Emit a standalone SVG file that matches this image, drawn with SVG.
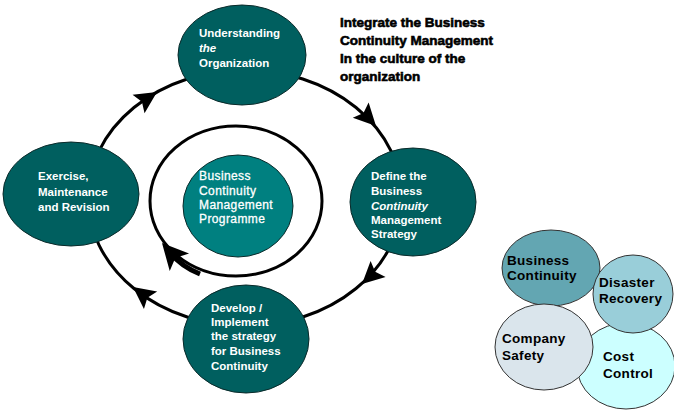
<svg xmlns="http://www.w3.org/2000/svg" xmlns:xlink="http://www.w3.org/1999/xlink" width="674" height="411" viewBox="0 0 674 411">
<defs>
<style>
.node{fill:#005F5F;stroke:#0a2a2a;stroke-width:1}
.inner{fill:#008080;stroke:#0a2a2a;stroke-width:1}
.nt{font-family:"Liberation Sans",Arial,sans-serif;font-size:11.5px;font-weight:bold;fill:#ffffff}
.it{font-family:"Liberation Sans",Arial,sans-serif;font-size:12px;fill:#ffffff;stroke:#ffffff;stroke-width:0.3;letter-spacing:0.4px}
.ring{fill:none;stroke:#000;stroke-width:3}
.title{font-family:"Liberation Sans",Arial,sans-serif;font-size:13.5px;font-weight:bold;fill:#000;stroke:#000;stroke-width:0.6}
.vt{font-family:"Liberation Sans",Arial,sans-serif;font-size:13.5px;font-weight:bold;fill:#000;letter-spacing:0.3px}
.venn{stroke:#333;stroke-width:1}
</style>
<path id="ah" d="M0,0 L-22,-11 L-18,0 L-22,11 Z" fill="#000"/>
<path id="ah2" d="M0,0 L-26,-13 L-20,0 L-26,13 Z" fill="#000"/>
</defs>
<rect width="674" height="411" fill="#fff"/>

<g id="connectors">
<ellipse class="ring" cx="245" cy="198" rx="157" ry="128"/>
<use xlink:href="#ah" transform="translate(157,92) rotate(-33)"/>
<use xlink:href="#ah" transform="translate(376,126) rotate(46)"/>
<use xlink:href="#ah" transform="translate(362,284) rotate(137)"/>
<use xlink:href="#ah" transform="translate(133,287) rotate(-143)"/>
<ellipse class="ring" cx="236" cy="201" rx="86" ry="75"/>
<path d="M200,274 Q180,266 168,250" fill="none" stroke="#000" stroke-width="5"/>
<use xlink:href="#ah2" transform="translate(162,243) rotate(-132)"/>
</g>

<g id="node-understanding">
<ellipse class="node" cx="242" cy="55" rx="64" ry="50"/>
<text class="nt" x="199" y="37">Understanding</text>
<text class="nt" x="199" y="52" font-style="italic">the</text>
<text class="nt" x="199" y="67">Organization</text>
</g>

<g id="node-define">
<ellipse class="node" cx="413" cy="202" rx="63" ry="54"/>
<text class="nt" x="371" y="180">Define the</text>
<text class="nt" x="371" y="195">Business</text>
<text class="nt" x="371" y="210" font-style="italic">Continuity</text>
<text class="nt" x="371" y="224">Management</text>
<text class="nt" x="371" y="238">Strategy</text>
</g>

<g id="node-develop">
<ellipse class="node" cx="246" cy="339" rx="63" ry="54"/>
<text class="nt" x="211" y="312">Develop /</text>
<text class="nt" x="211" y="326">Implement</text>
<text class="nt" x="211" y="340">the strategy</text>
<text class="nt" x="211" y="355">for Business</text>
<text class="nt" x="211" y="370">Continuity</text>
</g>

<g id="node-exercise">
<ellipse class="node" cx="71" cy="194" rx="68" ry="52"/>
<text class="nt" x="38" y="180">Exercise,</text>
<text class="nt" x="38" y="196">Maintenance</text>
<text class="nt" x="38" y="211">and Revision</text>
</g>

<g id="node-programme">
<ellipse class="inner" cx="238" cy="206" rx="55" ry="51"/>
<text class="it" x="199" y="180">Business</text>
<text class="it" x="199" y="195">Continuity</text>
<text class="it" x="199" y="209">Management</text>
<text class="it" x="199" y="223">Programme</text>
</g>

<g id="title">
<text class="title" x="340" y="27">Integrate the Business</text>
<text class="title" x="340" y="45">Continuity Management</text>
<text class="title" x="340" y="63">In the culture of the</text>
<text class="title" x="340" y="81">organization</text>
</g>

<g id="venn-cost-control">
<ellipse class="venn" cx="626" cy="366" rx="49" ry="43" fill="#CCFFFF"/>
<text class="vt" x="603" y="361">Cost</text>
<text class="vt" x="603" y="378">Control</text>
</g>
<g id="venn-business-continuity">
<ellipse class="venn" cx="551" cy="268" rx="49" ry="38" fill="#63A6B2"/>
<text class="vt" x="507" y="265">Business</text>
<text class="vt" x="507" y="280">Continuity</text>
</g>
<g id="venn-disaster-recovery">
<ellipse class="venn" cx="633" cy="294" rx="40" ry="39" fill="#99CED9"/>
<text class="vt" x="599" y="287">Disaster</text>
<text class="vt" x="599" y="303">Recovery</text>
</g>
<g id="venn-company-safety">
<ellipse class="venn" cx="544" cy="347" rx="49" ry="43" fill="#DAE5EC"/>
<text class="vt" x="502" y="343">Company</text>
<text class="vt" x="502" y="360">Safety</text>
</g>
</svg>
